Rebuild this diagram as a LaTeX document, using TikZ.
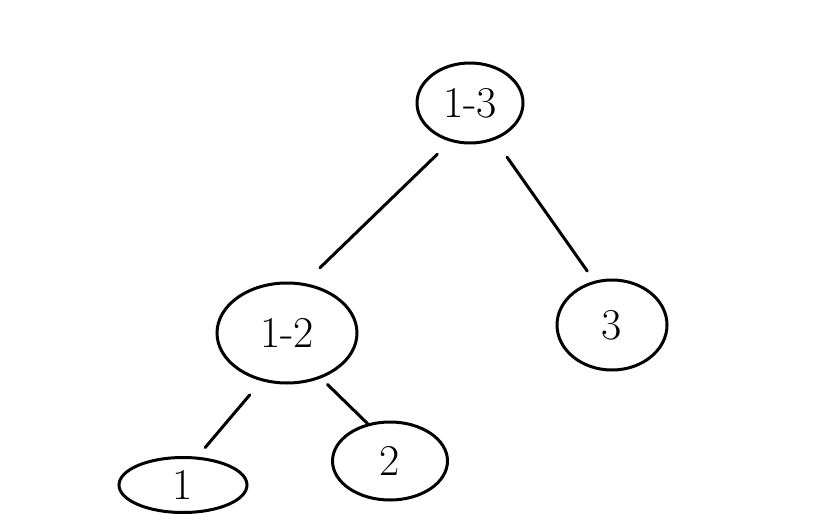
\documentclass[tikz,border=0pt]{standalone}
\usetikzlibrary{shapes.geometric}
\begin{document}
\begin{tikzpicture}[x=1pt,y=-1pt,
  tnode/.style={draw,ellipse,line width=3pt,inner sep=0pt,font=\fontsize{44}{44}\selectfont},
  edge/.style={line width=3pt,line cap=round}]
\useasboundingbox (0,0) rectangle (829,529);
\node[tnode,minimum width=106pt,minimum height=80pt] (r) at (470,103) {1-3};
\node[tnode,minimum width=140pt,minimum height=100pt] (a) at (287,333) {1-2};
\node[tnode,minimum width=110pt,minimum height=90pt] (b) at (612,325) {3};
\node[tnode,minimum width=128pt,minimum height=55pt] (c) at (183,485) {1};
\node[tnode,minimum width=115pt,minimum height=78pt] (d) at (390,461) {2};
\draw[edge,shorten <=18pt,shorten >=22pt] (r.-117) -- (a.71);
\draw[edge,shorten <=21pt,shorten >=12pt] (r.-56) -- (b.112);
\draw[edge,shorten <=18pt,shorten >=12pt] (a.-118) -- (c.63);
\draw[edge,shorten <=9pt,shorten >=0pt] (a.-53) -- (d.121);
\end{tikzpicture}
\end{document}
